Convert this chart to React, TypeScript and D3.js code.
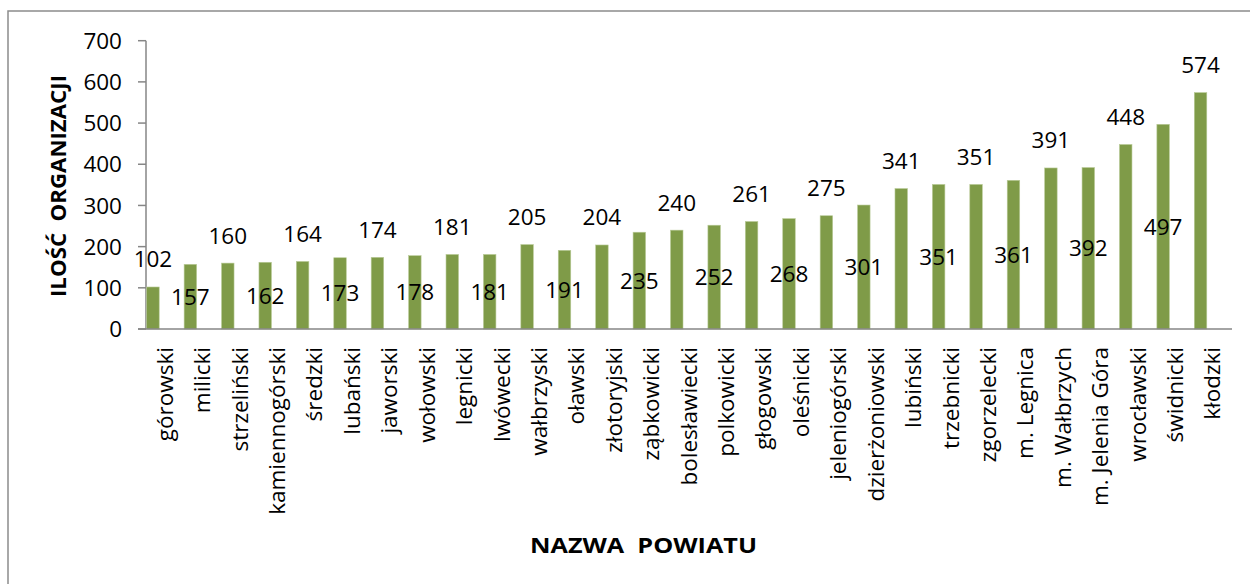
import React from 'react';
import * as d3 from 'd3';

// powiaty, sorted by count
const categories = [
    'górowski', 'milicki', 'strzeliński', 'kamiennogórski', 'średzki', 'lubański', 'jaworski',
    'wołowski', 'legnicki', 'lwówecki', 'wałbrzyski', 'oławski', 'złotoryjski', 'ząbkowicki',
    'bolesławiecki', 'polkowicki', 'głogowski', 'oleśnicki', 'jeleniogórski', 'dzierżoniowski',
    'lubiński', 'trzebnicki', 'zgorzelecki', 'm. Legnica', 'm. Wałbrzych', 'm. Jelenia Góra',
    'wrocławski', 'świdnicki', 'kłodzki',
];
const values = [
    102, 157, 160, 162, 164, 173, 174, 178, 181, 181, 205, 191, 204, 235, 240, 252, 261, 268,
    275, 301, 341, 351, 351, 361, 391, 392, 448, 497, 574,
];
const yTicks = [0, 100, 200, 300, 400, 500, 600, 700];

const yTitle = 'ILOŚĆ  ORGANIZACJI';
const xTitle = 'NAZWA  POWIATU';

const App = () => {
    const width = 1250;
    const height = 584;
    const font = '"Open Sans", sans-serif';

    // plot area
    const left = 146;
    const right = 1231;
    const top = 40.7;
    const bottom = 329;

    const x = d3.scaleBand<string>().domain(categories).range([left, right]).padding(0);
    const y = d3.scaleLinear().domain([0, 700]).range([bottom, top]);

    const bw = x.bandwidth();
    const barOffset = bw * 0.019;
    const barWidth = bw * 0.334;
    const axisColor = '#868686';

    return (
        <svg width={width} height={height} style={{position: 'absolute', left: 0, top: 0}}>
            <rect x={0} y={0} width={width} height={height} fill="#fff" />
            <rect x={8} y={11} width={width} height={height} fill="none" stroke="#8c8c8c" strokeWidth={1.5} />

            {/* y axis */}
            <line x1={left} x2={left} y1={top} y2={bottom} stroke={axisColor} strokeWidth={1.5} />
            {yTicks.map((t) => (
                <g key={t}>
                    <line x1={left - 8} x2={left} y1={y(t)} y2={y(t)} stroke={axisColor} strokeWidth={1.5} />
                    <text x={122} y={y(t)} dy="0.36em" textAnchor="end" fontFamily={font} fontSize={22.5} fill="#000">
                        {t}
                    </text>
                </g>
            ))}

            {/* bars */}
            {categories.map((c, i) => (
                <rect
                    key={c}
                    x={x(c)! + barOffset}
                    y={y(values[i])}
                    width={barWidth}
                    height={bottom - y(values[i])}
                    fill="#7f9b48"
                    stroke="#b9cb98"
                    strokeWidth={0.6}
                />
            ))}

            {/* x axis */}
            <line x1={left - 8} x2={right + 1} y1={bottom} y2={bottom} stroke={axisColor} strokeWidth={1.5} />

            {/* data labels: even above the bar, odd centred inside */}
            {categories.map((c, i) => {
                const cx = x(c)! + barOffset + barWidth / 2;
                const above = i % 2 === 0;
                const ty = above ? y(values[i]) - 19.5 : (y(values[i]) + bottom) / 2;
                return (
                    <text
                        key={c}
                        x={cx}
                        y={ty}
                        dy={above ? 0 : '0.36em'}
                        textAnchor="middle"
                        fontFamily={font}
                        fontSize={22.5}
                        fill="#000"
                    >
                        {values[i]}
                    </text>
                );
            })}

            {/* category labels */}
            {categories.map((c) => {
                const cx = x(c)! + bw / 2;
                return (
                    <text
                        key={c}
                        transform={`translate(${cx},347) rotate(-90)`}
                        dy="0.36em"
                        textAnchor="end"
                        fontFamily={font}
                        fontSize={22.5}
                        fill="#000"
                    >
                        {c}
                    </text>
                );
            })}

            {/* titles */}
            <text
                transform={`translate(58,186) rotate(-90)`}
                dy="0.36em"
                textAnchor="middle"
                fontFamily={font}
                fontWeight="bold"
                fontSize={22}
                textLength={222}
                lengthAdjust="spacingAndGlyphs"
                style={{whiteSpace: 'pre'}}
            >
                {yTitle}
            </text>
            <text
                x={643.5}
                y={545}
                dy="0.36em"
                textAnchor="middle"
                fontFamily={font}
                fontWeight="bold"
                fontSize={22}
                textLength={227}
                lengthAdjust="spacingAndGlyphs"
                style={{whiteSpace: 'pre'}}
            >
                {xTitle}
            </text>
        </svg>
    );
};

export default App;
